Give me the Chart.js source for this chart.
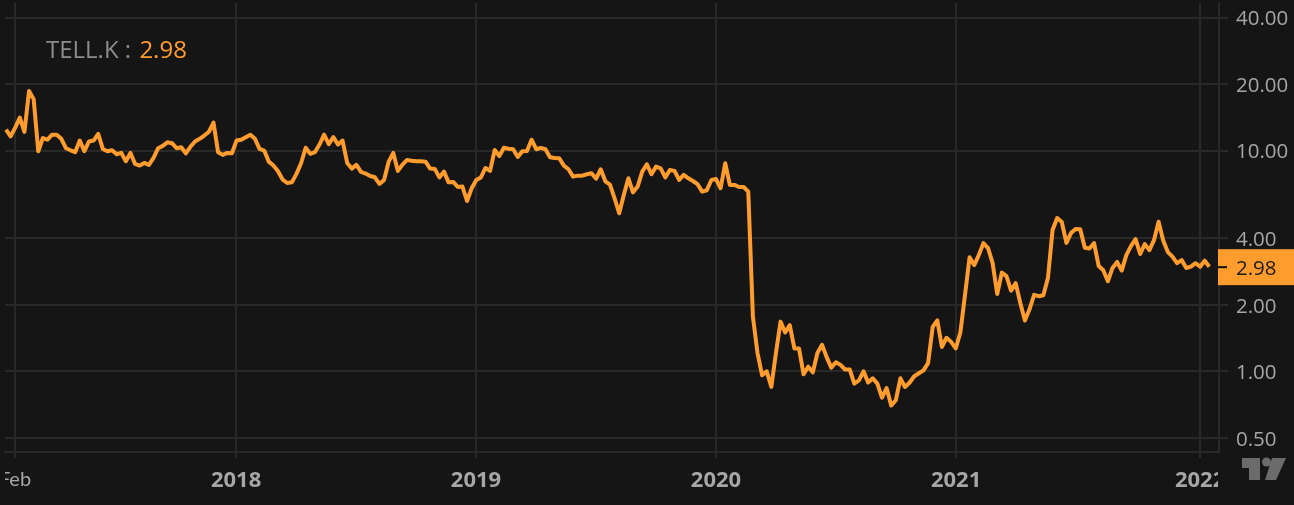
<!DOCTYPE html>
<html>
<head>
<meta charset="utf-8">
<title>TELL.K</title>
<script src="https://cdn.jsdelivr.net/npm/chart.js@4"></script>
<style>
  html, body { margin: 0; padding: 0; background: #151515; overflow: hidden; }
  canvas { display: block; }
</style>
</head>
<body>
<canvas id="priceChart" width="1294" height="505"></canvas>
<script>
// Weekly closes
const prices = [
  12.45, 11.6, 12.7, 14.1, 12.15, 18.6, 17.1, 9.93, 11.4, 11.2,
  11.8, 11.8, 11.3, 10.25, 10.03, 9.83, 11.1, 9.93, 11.0, 11.1,
  11.9, 10.17, 9.93, 10.03, 9.62, 9.76, 8.95, 9.76, 8.7, 8.55,
  8.79, 8.61, 9.26, 10.25, 10.5, 10.9, 10.8, 10.25, 10.35, 9.72,
  10.4, 11.0, 11.3, 11.7, 12.15, 13.4, 9.83, 9.56, 9.76, 9.72,
  11.1, 11.2, 11.5, 11.8, 11.3, 10.17, 10.0, 8.91, 8.55, 8.06,
  7.39, 7.13, 7.18, 7.84, 8.76, 10.3, 9.66, 9.83, 10.65, 11.8,
  10.7, 11.5, 10.65, 11.1, 8.79, 8.29, 8.61, 8.0, 7.87, 7.67,
  7.57, 7.06, 7.36, 8.91, 9.76, 8.09, 8.64, 9.07, 9.0, 8.95,
  8.95, 8.91, 8.29, 8.26, 7.56, 8.03, 7.18, 7.21, 6.84, 6.87,
  5.91, 6.75, 7.36, 7.56, 8.34, 8.09, 10.06, 9.46, 10.3, 10.2,
  10.14, 9.36, 9.93, 9.96, 11.2, 10.14, 10.28, 10.14, 9.33, 9.26,
  9.23, 8.55, 8.23, 7.62, 7.7, 7.7, 7.81, 7.89, 7.46, 8.23,
  7.26, 7.01, 6.08, 5.2, 6.29, 7.49, 6.47, 6.87, 8.03, 8.67,
  7.81, 8.46, 8.31, 7.56, 8.17, 8.09, 7.36, 7.76, 7.49, 7.28,
  7.04, 6.52, 6.61, 7.36, 7.43, 6.75, 8.76, 6.99, 6.99, 6.84,
  6.84, 6.52, 1.77, 1.21, 0.96, 1.0, 0.85, 1.21, 1.68, 1.5,
  1.62, 1.27, 1.27, 0.97, 1.05, 0.99, 1.21, 1.32, 1.16, 1.04,
  1.1, 1.07, 1.02, 1.02, 0.88, 0.91, 1.0, 0.89, 0.93, 0.88,
  0.76, 0.84, 0.7, 0.74, 0.93, 0.85, 0.89, 0.95, 0.98, 1.01,
  1.09, 1.59, 1.7, 1.29, 1.42, 1.36, 1.27, 1.5, 2.21, 3.29,
  3.03, 3.36, 3.81, 3.62, 3.09, 2.24, 2.8, 2.7, 2.32, 2.51,
  2.04, 1.7, 1.91, 2.22, 2.19, 2.21, 2.65, 4.37, 4.95, 4.75,
  3.82, 4.23, 4.41, 4.4, 3.63, 3.6, 3.81, 3.0, 2.87, 2.56,
  2.94, 3.13, 2.86, 3.36, 3.69, 3.97, 3.4, 3.77, 3.54, 3.93,
  4.76, 3.91, 3.47, 3.31, 3.09, 3.19, 2.94, 2.98, 3.09, 2.98,
  3.17, 2.98
];
const weeks = prices.map((p, i) => i);

// Axis ticks
const tickWeeks = [1.95, 49.9, 101.95, 154, 206.07, 259];
const tickLabels = ['Feb', '2018', '2019', '2020', '2021', '2022'];
const priceTicks = [40, 20, 10, 4, 2, 1, 0.5];

const symbol = 'TELL.K';
const lastPrice = prices[prices.length - 1];

const orange = '#ff9c2e';
const gridColor = '#292929';
const labelColor = '#a6a6a6';
const bg = '#151515';

// Background, legend, price tag, logo and the clipped axis label ends
const overlay = {
  id: 'overlay',
  beforeDraw(chart) {
    const c = chart.ctx;
    c.save();
    c.fillStyle = bg;
    c.fillRect(0, 0, chart.width, chart.height);
    c.restore();
  },
  afterDraw(chart) {
    const c = chart.ctx;
    const y = chart.scales.y.getPixelForValue(lastPrice);
    c.save();

    c.fillStyle = bg;
    c.fillRect(0, 460, 5, 45);
    c.fillRect(1218, 462, 22, 40);

    c.textBaseline = 'alphabetic';
    c.textAlign = 'left';
    c.font = '24px "Open Sans"';
    const head = symbol + ' : ';
    c.fillStyle = '#8c8c8c';
    c.fillText(head, 46, 58);
    c.fillStyle = orange;
    c.fillText(lastPrice.toFixed(2), 48 + c.measureText(head).width, 58);

    c.fillStyle = orange;
    c.fillRect(1218, y - 17.5, 76, 36);
    c.fillStyle = '#111';
    c.fillRect(1218, y - 0.5, 9, 2);
    c.font = '20.5px "Open Sans"';
    c.textBaseline = 'middle';
    c.fillStyle = '#1a1a1a';
    c.fillText(lastPrice.toFixed(2), 1236, y + 2);

    c.fillStyle = '#6b6b6b';
    c.beginPath();
    c.moveTo(1242, 458); c.lineTo(1260, 458); c.lineTo(1260, 480);
    c.lineTo(1249, 480); c.lineTo(1249, 468); c.lineTo(1242, 468);
    c.closePath();
    c.moveTo(1272, 458); c.lineTo(1286, 458); c.lineTo(1276, 480);
    c.lineTo(1265, 480);
    c.closePath();
    c.fill();
    c.beginPath();
    c.arc(1266.5, 462, 4.5, 0, Math.PI * 2);
    c.fill();

    c.restore();
  }
};

new Chart(document.getElementById('priceChart'), {
  type: 'line',
  data: {
    labels: weeks,
    datasets: [{
      label: symbol,
      data: weeks.map((w, i) => ({ x: w, y: prices[i] })),
      borderColor: orange,
      borderWidth: 4,
      borderJoinStyle: 'round',
      pointRadius: 0,
      tension: 0,
      clip: false
    }]
  },
  plugins: [overlay],
  options: {
    responsive: false,
    animation: false,
    events: [],
    layout: { padding: { left: 5, top: 3, right: 0, bottom: 0 } },
    plugins: { legend: { display: false }, tooltip: { enabled: false } },
    scales: {
      x: {
        type: 'linear',
        min: -0.217,
        max: 263.1,
        afterBuildTicks(scale) {
          scale.ticks = tickWeeks.map(v => ({ value: v }));
        },
        afterFit(scale) {
          scale.height = 53;
          scale.paddingLeft = 0;
          scale.paddingRight = 0;
        },
        grid: { color: gridColor, lineWidth: 2, tickLength: 6 },
        border: { color: gridColor, width: 2 },
        ticks: {
          autoSkip: false,
          maxRotation: 0,
          padding: 10,
          color: labelColor,
          font: ctx => ({
            family: ctx.index === 0 ? 'Lato' : 'Open Sans',
            size: ctx.index === 0 ? 20 : 22,
            weight: ctx.index === 0 ? 'normal' : 'bold'
          }),
          callback: (v, i) => tickLabels[i]
        }
      },
      y: {
        type: 'logarithmic',
        position: 'right',
        min: 0.4313,
        max: 46.6,
        afterBuildTicks(scale) {
          scale.ticks = priceTicks.map(v => ({ value: v }));
        },
        afterFit(scale) {
          scale.width = 75;
          scale.paddingTop = 0;
          scale.paddingBottom = 0;
        },
        grid: { color: gridColor, lineWidth: 2, tickLength: 9 },
        border: { color: gridColor, width: 2 },
        ticks: {
          autoSkip: false,
          padding: 8,
          labelOffset: 2,
          color: labelColor,
          font: { family: 'Open Sans', size: 20.5 },
          callback: v => Number(v).toFixed(2)
        }
      }
    }
  }
});
</script>
</body>
</html>
